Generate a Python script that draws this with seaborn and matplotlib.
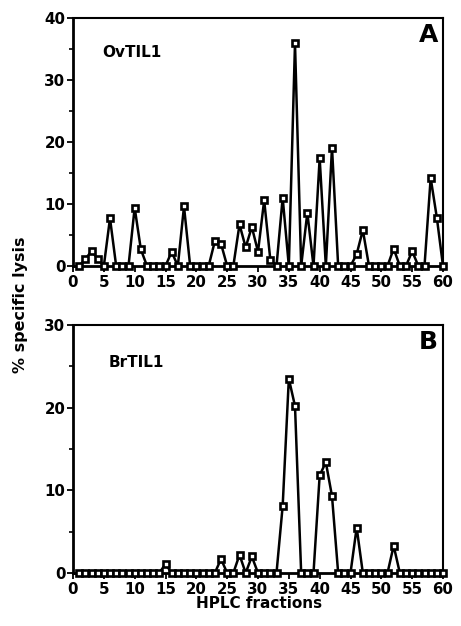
import numpy as np
import pandas as pd
import matplotlib
matplotlib.use("Agg")
import matplotlib.pyplot as plt
import seaborn as sns

fractions = list(range(1, 61))
ovtil1 = [0, 1.1, 2.4, 1.2, 0, 7.7, 0, 0, 0, 9.4,
          2.7, 0, 0, 0, 0, 2.3, 0, 9.6, 0, 0,
          0, 0, 4.0, 3.6, 0, 0, 6.7, 3.0, 6.3, 2.3,
          10.6, 1.0, 0, 11.0, 0, 35.9, 0, 8.6, 0, 17.4,
          0, 19.1, 0, 0, 0, 1.9, 5.8, 0, 0, 0,
          0, 2.8, 0, 0, 2.4, 0, 0, 14.2, 7.8, 0]
brtil1 = [0, 0, 0, 0, 0, 0, 0, 0, 0, 0,
          0, 0, 0, 0, 1.1, 0, 0, 0, 0, 0,
          0, 0, 0, 1.7, 0, 0, 2.2, 0, 2.0, 0,
          0, 0, 0, 8.1, 23.5, 20.2, 0, 0, 0, 11.8,
          13.4, 9.3, 0, 0, 0, 5.5, 0, 0, 0, 0,
          0, 3.3, 0, 0, 0, 0, 0, 0, 0, 0]
xticks = [0, 5, 10, 15, 20, 25, 30, 35, 40, 45, 50, 55, 60]
yticks_a = [0, 10, 20, 30, 40]
yticks_b = [0, 10, 20, 30]

sns.set_style("white")
plt.rcParams['font.family'] = ['DejaVu Sans']
plt.rcParams['font.weight'] = 'bold'
plt.rcParams['text.color'] = 'black'
plt.rcParams['axes.labelcolor'] = 'black'
plt.rcParams['xtick.color'] = 'black'
plt.rcParams['ytick.color'] = 'black'

fig = plt.figure(figsize=(4.61, 6.26), dpi=100)
axA = fig.add_axes([73/461, 1-266/626, 370/461, 248/626])
axB = fig.add_axes([73/461, 1-573/626, 370/461, 248/626])

dfA = pd.DataFrame({"fraction": fractions, "lysis": ovtil1})
dfB = pd.DataFrame({"fraction": fractions, "lysis": brtil1})

for ax, df, ymax, yt, name, letter, ny, lx in [
        (axA, dfA, 40, yticks_a, "OvTIL1", "A", 0.86, 0.078),
        (axB, dfB, 30, yticks_b, "BrTIL1", "B", 0.85, 0.095)]:
    sns.lineplot(data=df, x="fraction", y="lysis", ax=ax, color="black",
                 linewidth=1.8, marker="s", markersize=5,
                 markerfacecolor="white", markeredgecolor="black",
                 markeredgewidth=1.9, clip_on=False, zorder=3)
    ax.set_xlim(0, 60)
    ax.set_ylim(0, ymax)
    ax.set_xticks(xticks)
    ax.set_yticks(yt)
    ax.set_yticks(np.arange(5, ymax, 10), minor=True)
    ax.tick_params(axis="both", which="major", direction="out", length=4,
                   width=1.3, labelsize=10.8, pad=1.5, colors="black")
    ax.tick_params(axis="x", which="major", pad=2.5)
    ax.tick_params(axis="y", which="minor", direction="out", length=3,
                   width=1.2, color="black", left=True)
    ax.tick_params(axis="x", bottom=True)
    ax.tick_params(axis="y", left=True)
    for lab in ax.get_xticklabels() + ax.get_yticklabels():
        lab.set_fontweight("bold")
        lab.set_color("black")
    for s in ax.spines.values():
        s.set_color("black")
        s.set_linewidth(1.5)
    ax.spines["left"].set_linewidth(2)
    ax.spines["bottom"].set_linewidth(2)
    ax.set_xlabel("")
    ax.set_ylabel("")
    ax.text(lx, ny, name, transform=ax.transAxes, fontsize=11,
            fontweight="bold", va="center", ha="left", color="black")
    ax.text(0.96, 0.932, letter, transform=ax.transAxes, fontsize=18,
            fontweight="bold", va="center", ha="center", color="black")

fig.text(259/461, 1-604/626, "HPLC fractions", ha="center", va="center",
         fontsize=11, fontweight="bold", color="black")
fig.text(20/461, 1-305/626, "% specific lysis", ha="center", va="center",
         rotation=90, fontsize=11.5, fontweight="bold", color="black")

fig.savefig("out.png", dpi=100)
